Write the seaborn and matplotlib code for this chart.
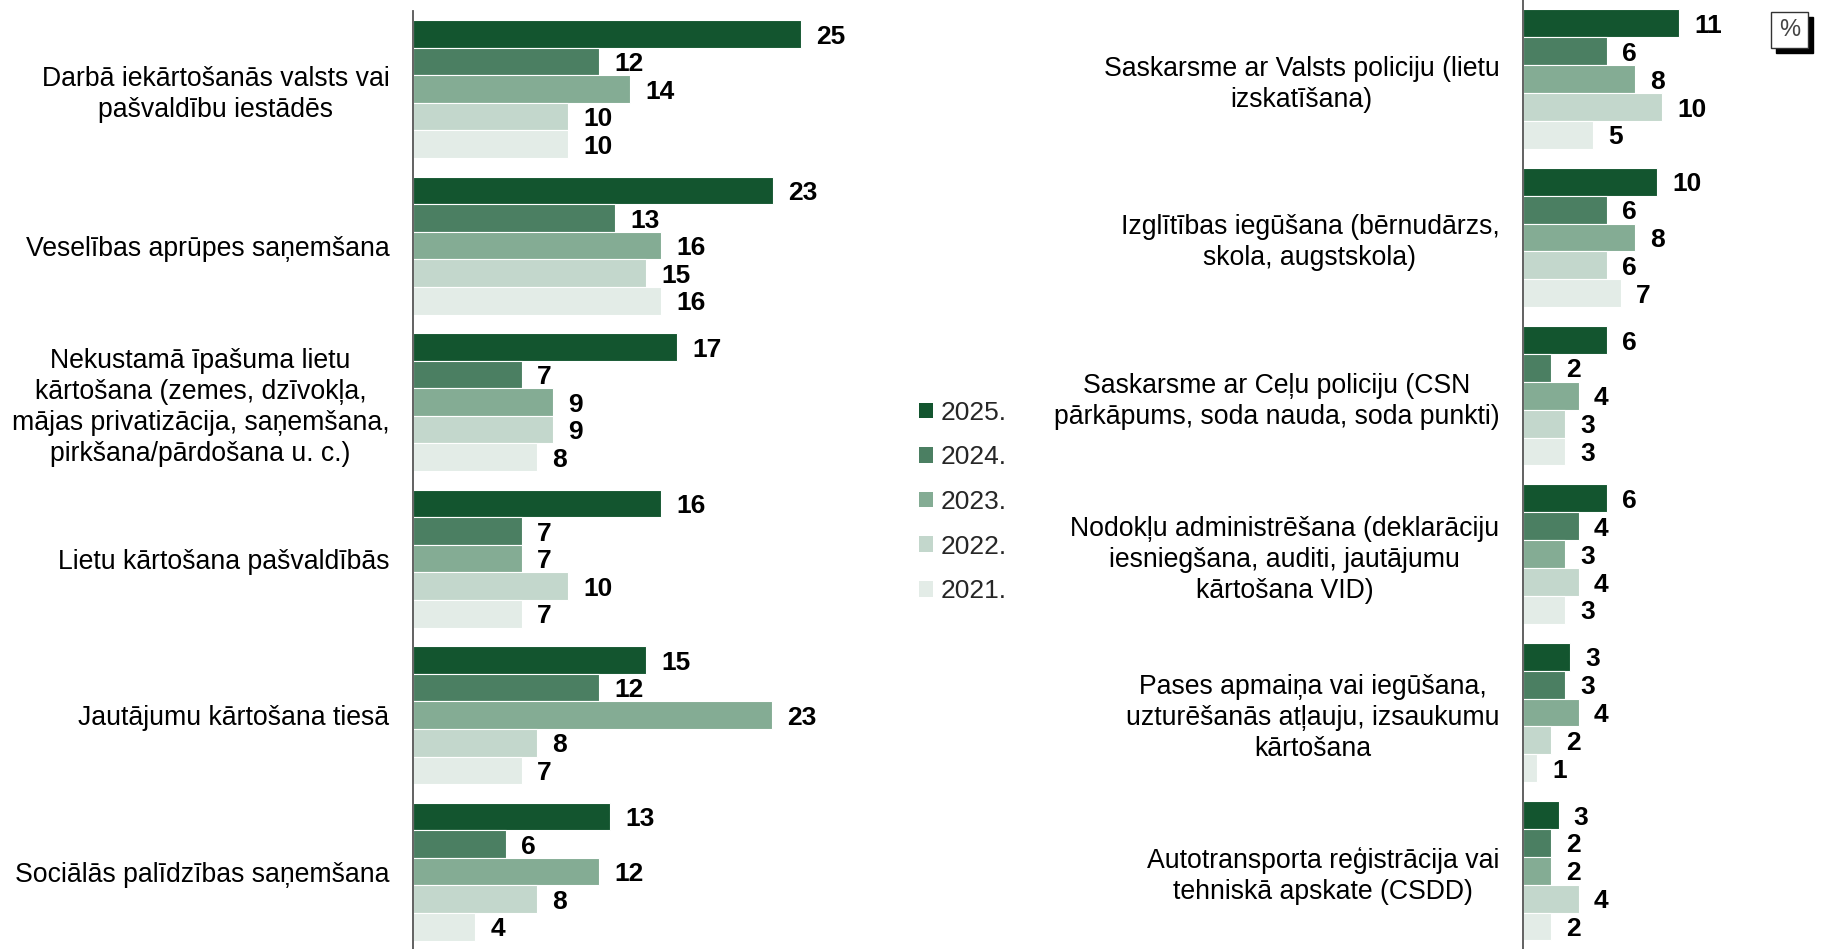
import matplotlib
matplotlib.use('Agg')
import matplotlib.pyplot as plt
import matplotlib.patches as mpatches
from matplotlib.ticker import FixedLocator
import pandas as pd
import seaborn as sns

sns.set_style('white')
plt.rcParams['font.family'] = ['Liberation Sans', 'DejaVu Sans']

years = ['2025.', '2024.', '2023.', '2022.', '2021.']
colors = ['#13552f', '#4b7f62', '#84ac94', '#c3d7cc', '#e3ece7']

left_cats = [
    'Darbā iekārtošanās valsts vai\npašvaldību iestādēs',
    'Veselības aprūpes saņemšana',
    'Nekustamā īpašuma lietu\nkārtošana (zemes, dzīvokļa,\nmājas privatizācija, saņemšana,\npirkšana/pārdošana u. c.)',
    'Lietu kārtošana pašvaldībās',
    'Jautājumu kārtošana tiesā',
    'Sociālās palīdzības saņemšana',
]
# bar lengths (labels are rounded)
left_2025 = [25, 23.2, 17, 16, 15, 12.7]
left_2024 = [12, 13, 7, 7, 12, 6]
left_2023 = [14, 16, 9, 7, 23.1, 12]
left_2022 = [10, 15, 9, 10, 8, 8]
left_2021 = [10, 16, 8, 7, 7, 4]

right_cats = [
    'Saskarsme ar Valsts policiju (lietu\nizskatīšana)',
    'Izglītības iegūšana (bērnudārzs,\nskola, augstskola)',
    'Saskarsme ar Ceļu policiju (CSN\npārkāpums, soda nauda, soda punkti)',
    'Nodokļu administrēšana (deklarāciju\niesniegšana, auditi, jautājumu\nkārtošana VID)',
    'Pases apmaiņa vai iegūšana,\nuzturēšanās atļauju, izsaukumu\nkārtošana',
    'Autotransporta reģistrācija vai\ntehniskā apskate (CSDD)',
]
right_2025 = [11.2, 9.6, 6, 6, 3.4, 2.55]
right_2024 = [6, 6, 2, 4, 3, 2]
right_2023 = [8, 8, 4, 3, 4, 2]
right_2022 = [10, 6, 3, 4, 2, 4]
right_2021 = [5, 7, 3, 3, 1, 2]


def long_df(cats, series):
    rows = []
    for yr, vals in zip(years, series):
        for c, v in zip(cats, vals):
            rows.append({'category': c, 'year': yr, 'value': v})
    return pd.DataFrame(rows)


df_left = long_df(left_cats, [left_2025, left_2024, left_2023, left_2022, left_2021])
df_right = long_df(right_cats, [right_2025, right_2024, right_2023, right_2022, right_2021])

fig = plt.figure(figsize=(18.23, 9.49), dpi=100)
ax_l = fig.add_axes([0.2266, -0.001, 0.2554, 0.9895])
ax_r = fig.add_axes([0.8354, -0.001, 0.1148, 1.001])


def draw_panel(ax, df, cats, xmax):
    sns.barplot(data=df, x='value', y='category', hue='year', order=cats,
                hue_order=years, palette=colors, orient='h', width=0.88,
                saturation=1, edgecolor='white', linewidth=0.8,
                legend=False, ax=ax)
    for cont in ax.containers:
        texts = ax.bar_label(cont, fmt='%.0f', padding=11, fontsize=19,
                             fontweight='bold', color='black')
        for t in texts:
            t.set_va('center_baseline')
    ax.set_xlim(0, xmax)
    ax.set_ylim(len(cats) - 0.5, -0.5)
    ax.set_xlabel('')
    ax.set_ylabel('')
    ax.set_xticks([])
    for side in ['top', 'right', 'bottom']:
        ax.spines[side].set_visible(False)
    ax.spines['left'].set_color('#555555')
    ax.spines['left'].set_linewidth(1.3)
    ax.tick_params(axis='y', which='major', length=0, pad=17, labelsize=19.2, labelcolor='black')
    ax.yaxis.set_minor_locator(FixedLocator([i - 0.5 for i in range(len(cats) + 1)]))
    ax.tick_params(axis='y', which='minor', direction='in', length=7, width=1, color='#555555')
    for lab in ax.get_yticklabels():
        lab.set_multialignment('center')
        lab.set_linespacing(1.25)
    ax.patch.set_alpha(0)


draw_panel(ax_l, df_left, left_cats, 30)
draw_panel(ax_r, df_right, right_cats, 15)

# legend
handles = [mpatches.Patch(facecolor=c, edgecolor='none') for c in colors]
fig.legend(handles, years, loc='center left', bbox_to_anchor=(0.491, 0.471),
           frameon=False, fontsize=19, handlelength=0.53, handleheight=0.53,
           handletextpad=0.3, labelspacing=0.78)

# percent box with shadow
W, H = 1823, 949
fig.patches.append(mpatches.Rectangle((1776 / W, 1 - 53 / H), 37 / W, 36 / H,
                                      transform=fig.transFigure, facecolor='black',
                                      edgecolor='black', zorder=5))
fig.patches.append(mpatches.Rectangle((1771 / W, 1 - 48 / H), 37 / W, 36 / H,
                                      transform=fig.transFigure, facecolor='white',
                                      edgecolor='#333333', linewidth=1, zorder=6))
fig.text(1789.5 / W, 1 - 30 / H, '%', ha='center', va='center', fontsize=17,
         color='#444444', zorder=7)

fig.savefig('out.png', dpi=100)
